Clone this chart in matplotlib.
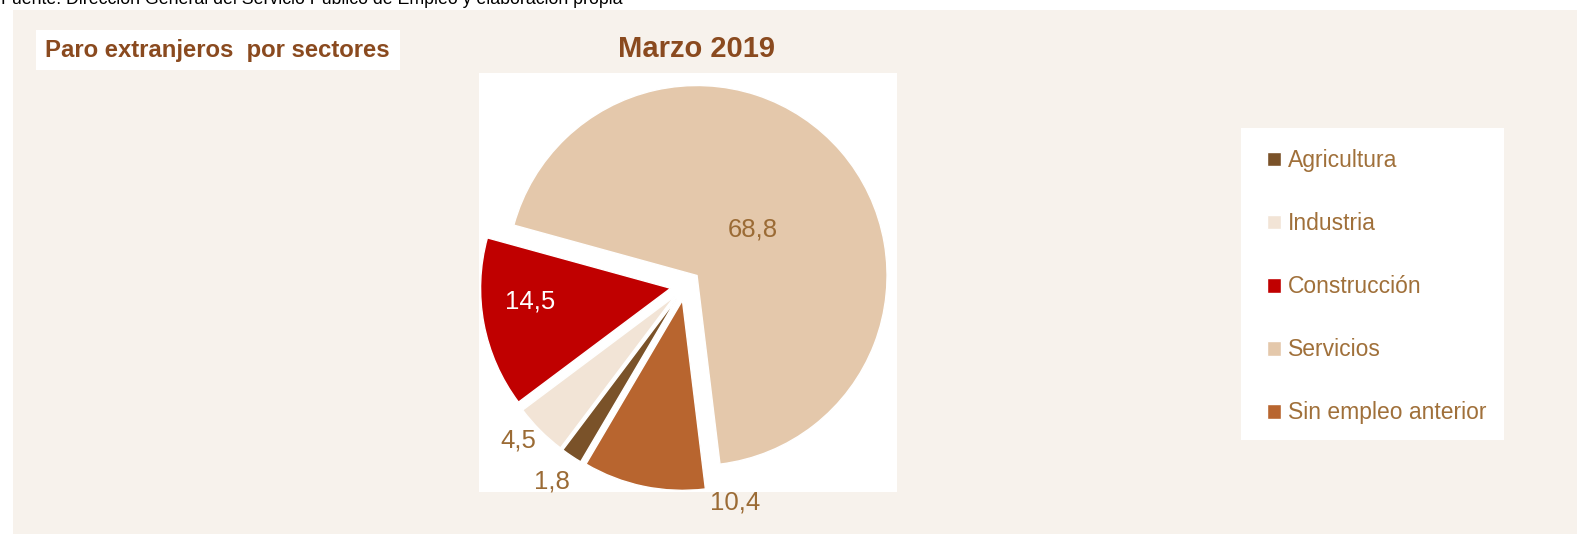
import matplotlib
matplotlib.use("Agg")
import matplotlib.pyplot as plt
import numpy as np
from matplotlib.patches import Rectangle

plt.rcParams['font.family'] = ['Liberation Sans', 'DejaVu Sans']

# data
sectores = ["Agricultura", "Industria", "Construcción", "Servicios", "Sin empleo anterior"]
valores = [1.8, 4.5, 14.5, 68.8, 10.4]
etiquetas = ["1,8", "4,5", "14,5", "68,8", "10,4"]
colores = ["#7a5229", "#f2e4d6", "#c00000", "#e4c8ab", "#b8652f"]

# label placement (radius factor, angle shift in degrees)
lab_r = [1.25, 1.20, 0.82, 0.46, 1.17]
lab_da = [-0.6, -2.1, -4.8, -0.9, 24.8]
lab_col = ["#9b6b35", "#9b6b35", "white", "#9b6b35", "#9b6b35"]

W, H = 1577, 534
fig = plt.figure(figsize=(W / 100, H / 100), dpi=100)
fig.patch.set_facecolor("white")

# beige panel
fig.patches.append(Rectangle((13 / W, 0), 1, (H - 10) / H, transform=fig.transFigure,
                             facecolor="#f7f2ec", edgecolor="none", zorder=0))
fig.text(1 / W, (H - 4) / H, "Fuente: Dirección General del Servicio Público de Empleo y elaboración propia",
         fontsize=12.8, color="black", va="baseline", ha="left")

# title box
fig.patches.append(Rectangle((36 / W, (H - 70) / H), 364 / W, 40 / H, transform=fig.transFigure,
                             facecolor="white", edgecolor="none", zorder=1))
fig.text(45 / W, (H - 50) / H, "Paro extranjeros  por sectores", fontsize=17.2, fontweight="bold",
         color="#8a4a1f", va="center", ha="left", zorder=2)

fig.text(696 / W, (H - 49) / H, "Marzo 2019", fontsize=21, fontweight="bold",
         color="#8a4a1f", va="center", ha="center")

ax = fig.add_axes([479 / W, 42 / H, 418 / W, 419 / H])
ax.set_zorder(3)
wedges, _ = ax.pie(valores, colors=colores, startangle=239.5, counterclock=False,
                   explode=[0.08] * 5, radius=1,
                   wedgeprops=dict(edgecolor="white", linewidth=1))
ax.set_frame_on(True)
for s in ax.spines.values():
    s.set_visible(False)
ax.set_facecolor("white")
ax.set_xlim(-1.087, 1.113)
ax.set_ylim(-1.087, 1.118)
ax.set_xticks([])
ax.set_yticks([])

for w, t, r, da, c in zip(wedges, etiquetas, lab_r, lab_da, lab_col):
    th = np.deg2rad((w.theta1 + w.theta2) / 2 + da)
    ax.text(r * np.cos(th), r * np.sin(th), t, fontsize=18.5, color=c,
            ha="center", va="center", clip_on=False)

# legend
fig.patches.append(Rectangle((1241 / W, (H - 440) / H), 263 / W, 312 / H, transform=fig.transFigure,
                             facecolor="white", edgecolor="none", zorder=1))
leg = fig.legend(wedges, sectores, loc="upper left", bbox_to_anchor=(1267 / W, (H - 149) / H),
                 frameon=False, fontsize=16.5, labelspacing=1.75, handlelength=0.62, handleheight=0.62,
                 handletextpad=0.28, borderaxespad=0, borderpad=0)
leg.set_zorder(4)
for txt in leg.get_texts():
    txt.set_color("#a0703a")

fig.savefig("out.png", dpi=100, facecolor=fig.get_facecolor())
